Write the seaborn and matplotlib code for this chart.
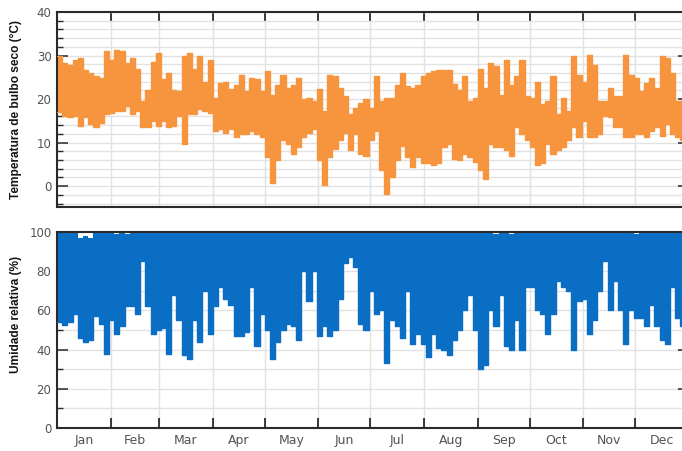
import numpy as np
import pandas as pd
import matplotlib
matplotlib.use("Agg")
import matplotlib.pyplot as plt
import seaborn as sns
from matplotlib.ticker import FixedLocator, MultipleLocator, NullFormatter, FixedFormatter

# ---------------- data (3-day bins) ----------------
months = ["Jan", "Feb", "Mar", "Apr", "May", "Jun",
          "Jul", "Aug", "Sep", "Oct", "Nov", "Dec"]
month_days = [31, 28, 31, 30, 31, 30, 31, 31, 30, 31, 30, 31]
bin_days = 3

temp_max = [30, 28.3, 27.9, 29, 29.5, 26.7, 26, 25.2, 24.8, 31,
            29, 31.3, 31, 28.3, 29.4, 27, 19.5, 22, 28.6, 30.5,
            24.5, 26, 22, 21.8, 30, 30.5, 27, 30, 24, 29,
            20.3, 23.7, 24, 22.2, 23.3, 25.6, 21.8, 24.8, 24.5, 21.8,
            26.4, 21, 23.3, 25.6, 22.6, 23.3, 24.8, 20, 20.3, 19.5,
            22.2, 17.3, 25.6, 25.2, 22.6, 20.7, 16.5, 18, 19.2, 20,
            18, 25.2, 19.5, 20.3, 20.3, 23.3, 26, 23, 22.6, 23.3,
            25.2, 26, 26.4, 26.7, 26.7, 26.7, 23.5, 22, 25.2, 19.5,
            20.3, 27, 22.6, 28.3, 27.5, 21, 29, 23.3, 25.2, 29,
            20.7, 20.3, 24, 18.8, 19.5, 25.2, 16.5, 20.3, 17.3, 29.8,
            25.6, 24, 30.2, 27.9, 19.5, 19.5, 22.6, 20.7, 20.7, 30.2,
            25.6, 24.8, 21.8, 23.7, 24.8, 22.6, 29.8, 29.4, 26, 19.5,
            19.5, 19.5]

temp_min = [17, 16.1, 15.8, 16, 13.9, 15.8, 14.2, 13.5, 14.6, 16.5,
            16.9, 17.3, 17.3, 18.4, 16.5, 17.3, 13.5, 13.5, 15, 13.9,
            15, 13.5, 13.9, 16.1, 9.7, 16.5, 16.5, 17.7, 17.3, 16.9,
            12.7, 13.1, 12.3, 13.1, 11.2, 12, 12, 12.7, 12, 11.2,
            6.7, 0.6, 5.9, 10.5, 9.7, 7.4, 8.9, 11.2, 12.3, 13.1,
            5.9, 0.2, 6.7, 8.6, 10.5, 12.3, 8.2, 12, 7.4, 7,
            10.5, 12.7, 3.6, -1.7, 2.1, 5.9, 9.3, 6.7, 4.4, 6.7,
            5.2, 5.2, 4.8, 5.2, 8.9, 9.7, 6.3, 5.9, 7.4, 6.7,
            5.5, 3.6, 1.7, 9.7, 8.9, 8.9, 8.2, 7, 13.5, 12,
            10.5, 8.9, 4.8, 5.2, 9.7, 7.4, 8.2, 8.9, 10.5, 13.5,
            11.2, 15, 11.2, 11.2, 12, 16.1, 15.8, 13.5, 13.5, 11.2,
            11.2, 12, 12, 11.2, 12.7, 13.5, 11.6, 14.2, 12, 11.2,
            10.5, 10.5]

rh_min = [54, 52.5, 54, 58, 46, 44, 45, 57, 53, 38,
          55, 48, 52, 62, 62, 58, 85, 62, 48, 50,
          51, 38, 68, 55, 37, 35, 55, 44, 70, 48,
          62, 72, 66, 63, 47, 47, 49, 72, 42, 58,
          50, 35, 44, 50, 53, 52, 45, 80, 65, 80,
          47, 52, 47, 50, 66, 84, 87, 82, 53, 50,
          70, 58, 60, 33, 55, 52, 46, 70, 43, 48,
          43, 36, 48, 41, 40, 37, 45, 50, 60, 68,
          50, 30, 32, 60, 52, 68, 42, 40, 55, 40,
          72, 72, 60, 58, 48, 58, 75, 72, 70, 40,
          65, 66, 48, 55, 70, 85, 60, 75, 60, 43,
          60, 56, 56, 52, 63, 52, 45, 43, 72, 56,
          52, 52]

rh_max = [100, 100, 100, 100, 97, 98, 97, 100, 100, 100,
          100, 99, 100, 99, 100, 100, 100, 100, 100, 100,
          100, 100, 100, 100, 100, 100, 100, 100, 100, 100,
          100, 100, 100, 100, 100, 100, 100, 100, 100, 100,
          100, 100, 100, 100, 100, 100, 100, 100, 100, 100,
          100, 100, 100, 100, 100, 100, 100, 100, 100, 100,
          100, 100, 100, 100, 100, 100, 100, 100, 100, 100,
          100, 100, 100, 100, 100, 100, 100, 100, 100, 100,
          100, 100, 100, 100, 99, 100, 100, 99, 100, 100,
          100, 100, 100, 100, 100, 100, 100, 100, 100, 100,
          100, 100, 100, 100, 100, 100, 100, 100, 100, 100,
          100, 99, 100, 100, 100, 100, 100, 100, 100, 100,
          100, 100]

temp_ylabel = "Temperatura de bulbo seco (°C)"
rh_ylabel = "Umidade relativa (%)"

# ---------------- styling ----------------
ORANGE = "#F7953F"
BLUE = "#0A6EC4"
SPINE = "#2a2a2a"
GRID = "#e2e2e2"
TICKTXT = "#4f5358"

sns.set_theme(style="white")
plt.rcParams["font.family"] = ["DejaVu Sans"]

fig = plt.figure(figsize=(6.82, 4.51), dpi=100)
W, H = 682.0, 451.0
ax1 = fig.add_axes([57 / W, 1 - 207 / H, 632 / W, 195 / H])
ax2 = fig.add_axes([57 / W, 1 - 428 / H, 632 / W, 196 / H])

n = len(temp_max)
starts = np.arange(n) * bin_days
df = pd.DataFrame({"day": starts, "tmax": temp_max, "tmin": temp_min,
                   "rhmin": rh_min, "rhmax": rh_max})
last = pd.DataFrame({"day": [365], "tmax": [temp_max[-1]], "tmin": [temp_min[-1]],
                     "rhmin": [rh_min[-1]], "rhmax": [rh_max[-1]]})
dfe = pd.concat([df, last], ignore_index=True)

# temperature band
ax1.fill_between(dfe["day"], dfe["tmin"], dfe["tmax"], step="post",
                 color=ORANGE, linewidth=0, zorder=2)
sns.lineplot(data=dfe, x="day", y="tmax", ax=ax1, color=ORANGE, lw=1.0,
             drawstyle="steps-post", zorder=3)
sns.lineplot(data=dfe, x="day", y="tmin", ax=ax1, color=ORANGE, lw=1.0,
             drawstyle="steps-post", zorder=3)

# humidity band
ax2.fill_between(dfe["day"], dfe["rhmin"], dfe["rhmax"], step="post",
                 color=BLUE, linewidth=0, zorder=2)
sns.lineplot(data=dfe, x="day", y="rhmin", ax=ax2, color=BLUE, lw=1.0,
             drawstyle="steps-post", zorder=3)

bounds = np.concatenate([[0], np.cumsum(month_days)])
mids = (bounds[:-1] + bounds[1:]) / 2.0

for ax in (ax1, ax2):
    ax.set_xlim(0, 365)
    ax.set_xlabel("")
    ax.xaxis.set_major_locator(FixedLocator(bounds[1:-1]))
    ax.xaxis.set_major_formatter(NullFormatter())
    ax.grid(True, which="major", axis="x", color=GRID, lw=1.0, zorder=0)
    ax.grid(True, which="both", axis="y", color=GRID, lw=1.0, zorder=0)
    ax.set_axisbelow(True)
    for s in ax.spines.values():
        s.set_color(SPINE)
        s.set_linewidth(1.5)
    ax.tick_params(axis="y", which="major", direction="in", left=True, right=True,
                   length=8, width=1.1, color=SPINE, labelsize=8.5,
                   labelcolor=TICKTXT, pad=4)
    ax.tick_params(axis="y", which="minor", direction="in", left=True, right=False,
                   length=4, width=1.0, color=SPINE)

# top panel
ax1.set_ylim(-4.8, 40)
ax1.yaxis.set_major_locator(MultipleLocator(10))
ax1.yaxis.set_minor_locator(MultipleLocator(2))
ax1.tick_params(axis="x", which="major", direction="in", top=True, bottom=False,
                length=7, width=1.3, color=SPINE, labelbottom=False)
ax1.set_ylabel(temp_ylabel, family=["Liberation Sans", "DejaVu Sans"],
               fontweight="bold", fontsize=8.6, color="#151515")
ax1.yaxis.set_label_coords(-0.055, 0.5)

# bottom panel
ax2.set_ylim(0, 100)
ax2.yaxis.set_major_locator(MultipleLocator(20))
ax2.yaxis.set_minor_locator(MultipleLocator(10))
ax2.xaxis.set_minor_locator(FixedLocator(mids))
ax2.xaxis.set_minor_formatter(FixedFormatter(months))
ax2.tick_params(axis="x", which="major", direction="in", bottom=True, top=False,
                length=7, width=1.3, color=SPINE)
ax2.tick_params(axis="x", which="minor", length=0, labelsize=9,
                labelcolor=TICKTXT, pad=4)
ax2.set_ylabel(rh_ylabel, family=["Liberation Sans", "DejaVu Sans"],
               fontweight="bold", fontsize=8.6, color="#151515")
ax2.yaxis.set_label_coords(-0.055, 0.58)

fig.savefig("out.png", dpi=100)
